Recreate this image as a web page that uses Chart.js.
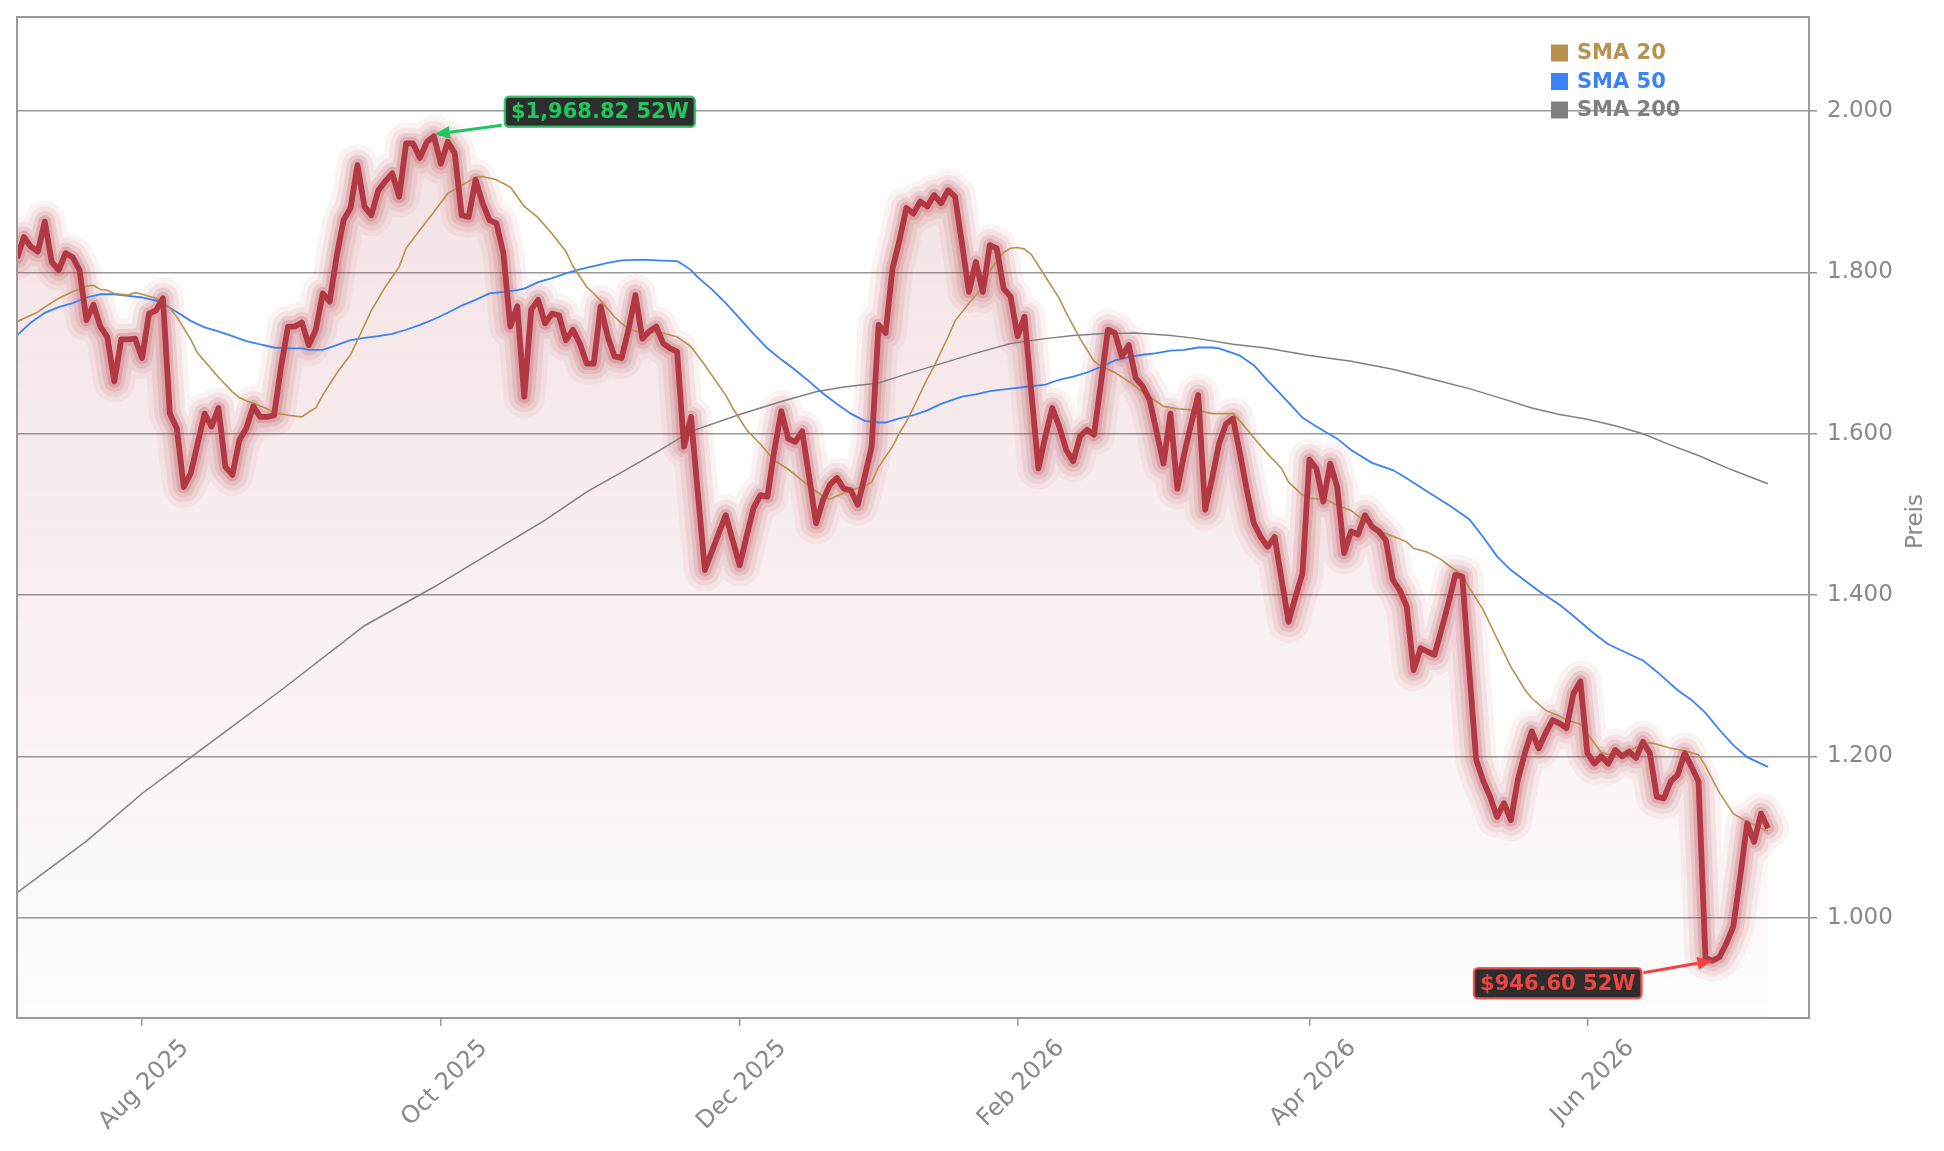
<!DOCTYPE html>
<html><head><meta charset="utf-8">
<script src="https://cdn.jsdelivr.net/npm/chart.js@4.4.1/dist/chart.umd.min.js"></script>
<style>html,body{margin:0;padding:0;background:#fff;}#wrap{width:1944px;height:1151px;}</style>
</head><body><div id="wrap"><canvas id="c" width="1944" height="1151"></canvas></div>
<script>
// Trading days (German exchange calendar), one per data point
const dates = [
"2025-07-08","2025-07-09","2025-07-10","2025-07-11","2025-07-14","2025-07-15","2025-07-16","2025-07-17","2025-07-18","2025-07-21","2025-07-22","2025-07-23","2025-07-24","2025-07-25","2025-07-28","2025-07-29","2025-07-30","2025-07-31",
"2025-08-01","2025-08-04","2025-08-05","2025-08-06","2025-08-07","2025-08-08","2025-08-11","2025-08-12","2025-08-13","2025-08-14","2025-08-15","2025-08-18","2025-08-19","2025-08-20","2025-08-21","2025-08-22","2025-08-25","2025-08-26","2025-08-27","2025-08-28","2025-08-29",
"2025-09-01","2025-09-02","2025-09-03","2025-09-04","2025-09-05","2025-09-08","2025-09-09","2025-09-10","2025-09-11","2025-09-12","2025-09-15","2025-09-16","2025-09-17","2025-09-18","2025-09-19","2025-09-22","2025-09-23","2025-09-24","2025-09-25","2025-09-26","2025-09-29","2025-09-30",
"2025-10-01","2025-10-02","2025-10-03","2025-10-06","2025-10-07","2025-10-08","2025-10-09","2025-10-10","2025-10-13","2025-10-14","2025-10-15","2025-10-16","2025-10-17","2025-10-20","2025-10-21","2025-10-22","2025-10-23","2025-10-24","2025-10-27","2025-10-28","2025-10-29","2025-10-30","2025-10-31",
"2025-11-03","2025-11-04","2025-11-05","2025-11-06","2025-11-07","2025-11-10","2025-11-11","2025-11-12","2025-11-13","2025-11-14","2025-11-17","2025-11-18","2025-11-19","2025-11-20","2025-11-21","2025-11-24","2025-11-25","2025-11-26","2025-11-27","2025-11-28",
"2025-12-01","2025-12-02","2025-12-03","2025-12-04","2025-12-05","2025-12-08","2025-12-09","2025-12-10","2025-12-11","2025-12-12","2025-12-15","2025-12-16","2025-12-17","2025-12-18","2025-12-19","2025-12-22","2025-12-23","2025-12-29","2025-12-30",
"2026-01-02","2026-01-05","2026-01-06","2026-01-07","2026-01-08","2026-01-09","2026-01-12","2026-01-13","2026-01-14","2026-01-15","2026-01-16","2026-01-19","2026-01-20","2026-01-21","2026-01-22","2026-01-23","2026-01-26","2026-01-27","2026-01-28","2026-01-29","2026-01-30",
"2026-02-02","2026-02-03","2026-02-04","2026-02-05","2026-02-06","2026-02-09","2026-02-10","2026-02-11","2026-02-12","2026-02-13","2026-02-16","2026-02-17","2026-02-18","2026-02-19","2026-02-20","2026-02-23","2026-02-24","2026-02-25","2026-02-26","2026-02-27",
"2026-03-02","2026-03-03","2026-03-04","2026-03-05","2026-03-06","2026-03-09","2026-03-10","2026-03-11","2026-03-12","2026-03-13","2026-03-16","2026-03-17","2026-03-18","2026-03-19","2026-03-20","2026-03-23","2026-03-24","2026-03-25","2026-03-26","2026-03-27","2026-03-30","2026-03-31",
"2026-04-01","2026-04-02","2026-04-07","2026-04-08","2026-04-09","2026-04-10","2026-04-13","2026-04-14","2026-04-15","2026-04-16","2026-04-17","2026-04-20","2026-04-21","2026-04-22","2026-04-23","2026-04-24","2026-04-27","2026-04-28","2026-04-29","2026-04-30",
"2026-05-04","2026-05-05","2026-05-06","2026-05-07","2026-05-08","2026-05-11","2026-05-12","2026-05-13","2026-05-14","2026-05-15","2026-05-18","2026-05-19","2026-05-20","2026-05-21","2026-05-22","2026-05-25","2026-05-26","2026-05-27","2026-05-28","2026-05-29",
"2026-06-01","2026-06-02","2026-06-03","2026-06-04","2026-06-05","2026-06-08","2026-06-09","2026-06-10","2026-06-11","2026-06-12","2026-06-15","2026-06-16","2026-06-17","2026-06-18","2026-06-19","2026-06-22","2026-06-23","2026-06-24","2026-06-25","2026-06-26","2026-06-29","2026-06-30",
"2026-07-01","2026-07-02","2026-07-03","2026-07-06","2026-07-07"
];

const price = [
1818,1844,1832,1826,1863,1813,1803,1824,1819,1803,
1741,1760,1733,1720,1665,1717,1717,1718,1694,1749,
1753,1768,1625,1607,1534,1551,1588,1625,1609,1632,
1559,1549,1592,1607,1634,1621,1621,1623,1683,1733,
1733,1738,1710,1729,1774,1764,1820,1865,1880,1933,
1882,1871,1902,1913,1923,1894,1960,1960,1942,1962,
1968.82,1935,1962,1948,1871,1869,1915,1886,1865,1861,
1824,1733,1758,1646,1754,1766,1737,1749,1747,1716,
1729,1712,1687,1687,1758,1721,1696,1694,1729,1772,
1718,1727,1733,1712,1706,1702,1584,1621,1525,1431,
1454,1477,1499,1468,1437,1473,1508,1524,1522,1580,
1628,1594,1590,1603,1547,1489,1518,1537,1545,1532,
1530,1512,1547,1584,1735,1725,1805,1840,1880,1873,
1888,1882,1896,1886,1902,1894,1836,1776,1813,1776,
1834,1830,1780,1770,1721,1745,1650,1557,1597,1632,
1609,1580,1566,1597,1605,1599,1663,1729,1725,1696,
1710,1669,1659,1642,1603,1563,1625,1532,1576,1613,
1648,1506,1545,1588,1612,1619,1576,1530,1489,1472,
1460,1472,1419,1367,1398,1427,1568,1557,1516,1563,
1534,1452,1479,1475,1499,1485,1479,1468,1419,1406,
1386,1307,1334,1330,1326,1357,1390,1425,1423,1307,
1196,1170,1150,1125,1142,1121,1171,1204,1231,1210,
1229,1245,1241,1235,1278,1293,1204,1191,1200,1191,
1208,1200,1206,1198,1218,1204,1150,1148,1169,1177,
1204,1187,1169,950,946.6,951,968,989,1051,1117,
1094,1129,1111
];

// Moving averages: [day index, value]
const sma20 = [[0,1739],[3,1751],[4,1757],[6,1768],[8,1776],[10,1783],[11,1784],[12,1779],[13,1778],[14,1774],[16,1772],[17,1775],[18,1773],[20,1768],[21,1763],[22,1756],[23,1745],[25,1717],[26,1700],[28,1680],[29,1670],[31,1652],[32,1645],[33,1641],[34,1638],[36,1631],[37,1626],[39,1623],[41,1621],[42,1627],[43,1632],[44,1648],[46,1675],[48,1698],[49,1716],[51,1753],[53,1782],[55,1807],[56,1830],[58,1853],[60,1875],[62,1898],[64,1908],[66,1918],[67,1919],[69,1915],[71,1906],[72,1894],[73,1882],[75,1868],[77,1848],[79,1826],[80,1808],[82,1782],[83,1774],[84,1765],[86,1745],[87,1737],[88,1730],[90,1725],[92,1726],[93,1725],[95,1720],[97,1708],[99,1685],[101,1660],[102,1648],[103,1632],[105,1605],[107,1587],[109,1567],[111,1556],[113,1542],[115,1529],[116,1522],[117,1519],[118,1523],[120,1530],[122,1535],[123,1540],[124,1559],[126,1584],[127,1601],[128,1615],[129,1632],[130,1650],[131,1668],[132,1684],[134,1720],[135,1740],[137,1762],[139,1782],[140,1802],[141,1814],[142,1825],[143,1830],[144,1831],[145,1829],[146,1822],[148,1795],[150,1768],[151,1750],[153,1718],[155,1690],[156,1684],[158,1676],[160,1665],[162,1652],[164,1640],[165,1634],[167,1631],[170,1629],[172,1625],[175,1625],[176,1616],[178,1595],[180,1575],[182,1557],[183,1540],[185,1524],[186,1520],[188,1519],[189,1516],[190,1511],[192,1505],[193,1498],[195,1486],[196,1480],[198,1473],[200,1466],[201,1458],[203,1453],[205,1444],[206,1437],[208,1425],[209,1409],[211,1382],[213,1346],[215,1311],[217,1283],[218,1272],[220,1257],[222,1250],[223,1245],[225,1240],[226,1228],[228,1205],[229,1202],[231,1204],[233,1211],[235,1217],[236,1215],[238,1210],[240,1207],[242,1202],[243,1188],[245,1155],[247,1129],[249,1119],[251,1111],[252,1107]];

const sma50 = [[0,1722],[2,1738],[4,1750],[6,1757],[8,1762],[10,1769],[12,1773],[14,1773],[16,1771],[18,1769],[20,1765],[21,1761],[23,1751],[25,1740],[27,1732],[29,1727],[31,1721],[33,1715],[35,1711],[37,1707],[39,1706],[41,1706],[42,1704],[44,1704],[46,1710],[48,1716],[50,1719],[52,1721],[54,1724],[56,1729],[58,1735],[60,1742],[62,1750],[64,1759],[66,1766],[68,1774],[70,1776],[72,1778],[73,1780],[75,1788],[77,1793],[79,1799],[81,1804],[83,1808],[85,1812],[87,1815],[90,1816],[92,1815],[95,1814],[96,1809],[97,1803],[98,1794],[100,1779],[102,1762],[104,1743],[106,1724],[108,1706],[110,1692],[112,1679],[114,1665],[116,1650],[118,1637],[120,1625],[122,1616],[124,1614],[125,1614],[127,1619],[129,1623],[131,1629],[133,1637],[136,1646],[138,1649],[140,1653],[143,1656],[145,1658],[148,1661],[150,1667],[152,1671],[154,1676],[156,1683],[158,1691],[160,1695],[162,1698],[164,1700],[166,1703],[168,1704],[170,1707],[172,1707],[173,1706],[175,1700],[176,1697],[177,1691],[178,1685],[180,1666],[182,1648],[185,1620],[187,1609],[190,1594],[192,1580],[195,1564],[198,1555],[200,1545],[203,1528],[206,1512],[209,1494],[211,1472],[213,1448],[215,1431],[217,1418],[219,1405],[222,1388],[224,1374],[227,1352],[229,1339],[232,1327],[234,1319],[236,1305],[239,1282],[241,1270],[243,1254],[245,1233],[247,1214],[249,1199],[252,1187]];

const sma200 = [[0,1031],[10,1095],[18,1154],[28,1218],[38,1282],[50,1362],[60,1410],[70,1462],[76,1493],[82,1528],[88,1557],[92,1577],[97,1603],[104,1624],[110,1640],[115,1652],[119,1658],[124,1663],[128,1674],[133,1687],[138,1700],[143,1712],[148,1718],[152,1722],[156,1724],[161,1725],[166,1722],[170,1718],[175,1711],[180,1706],[186,1697],[192,1690],[198,1680],[204,1667],[209,1656],[214,1643],[218,1632],[222,1624],[226,1618],[230,1610],[234,1600],[238,1586],[242,1573],[246,1558],[249,1548],[252,1538]];

const seriesNames = ["SMA 20", "SMA 50", "SMA 200"];
const yTickValues = [1000, 1200, 1400, 1600, 1800, 2000];
const xTickDates = ["2025-08-01","2025-10-01","2025-12-01","2026-02-02","2026-04-01","2026-06-01"];
const xTickLabels = ["Aug 2025","Oct 2025","Dec 2025","Feb 2026","Apr 2026","Jun 2026"];
const yTitle = "Preis";

// ---------- styling ----------
const FONT = '"DejaVu Sans", "Liberation Sans", sans-serif';
const GRAY = '#999999';
const TXT = '#888888';
const RED = 'rgb(178,56,68)';
const COLORS = ['#b8914f', '#3b82f6', '#808080'];

const pts = price.map((v, i) => ({x: i, y: v}));
const toPts = arr => arr.map(p => ({x: p[0], y: p[1]}));
let hiIdx = 0, loIdx = 0;
price.forEach((v, i) => { if (v > price[hiIdx]) hiIdx = i; if (v < price[loIdx]) loIdx = i; });
const fmtUSD = v => '$' + v.toLocaleString('en-US', {minimumFractionDigits: 2, maximumFractionDigits: 2});
const fmtDE = v => String(v).replace(/\B(?=(\d{3})+(?!\d))/g, '.');

const glow = [[42, 0.06], [31, 0.09], [21, 0.13], [13, 0.2]].map((g, k) => ({
  data: pts, borderColor: `rgba(176,58,70,${g[1]})`, borderWidth: g[0], pointRadius: 0,
  fill: false, order: 20 - k, borderJoinStyle: 'round', borderCapStyle: 'round', clip: 0, label: ''
}));

const datasets = [
  ...glow,
  {data: toPts(sma200), label: seriesNames[2], borderColor: COLORS[2], borderWidth: 1.5, pointRadius: 0, fill: false, order: 6, clip: 0},
  {data: toPts(sma50), label: seriesNames[1], borderColor: COLORS[1], borderWidth: 1.8, pointRadius: 0, fill: false, order: 5, clip: 0},
  {data: toPts(sma20), label: seriesNames[0], borderColor: COLORS[0], borderWidth: 1.6, pointRadius: 0, fill: false, order: 4, clip: 0},
  {data: pts, label: 'Preis', borderColor: RED, borderWidth: 5.8, pointRadius: 0, order: 1, clip: 0,
   borderJoinStyle: 'round', fill: 'start',
   backgroundColor: (c) => {
     const a = c.chart.chartArea; if (!a) return 'rgba(0,0,0,0)';
     const g = c.chart.ctx.createLinearGradient(0, a.top, 0, a.bottom);
     g.addColorStop(0, 'rgba(180,60,70,0.17)');
     g.addColorStop(1, 'rgba(180,60,70,0.015)');
     return g;
   }}
];

function arrow(ctx, x1, y1, x2, y2, color) {
  const ang = Math.atan2(y2 - y1, x2 - x1), L = 15, W = 6.5;
  const bx = x2 - L * Math.cos(ang), by = y2 - L * Math.sin(ang);
  ctx.strokeStyle = color; ctx.lineWidth = 3;
  ctx.beginPath(); ctx.moveTo(x1, y1); ctx.lineTo(bx, by); ctx.stroke();
  ctx.fillStyle = color; ctx.beginPath();
  ctx.moveTo(x2, y2);
  ctx.lineTo(bx + W * Math.sin(ang), by - W * Math.cos(ang));
  ctx.lineTo(bx - W * Math.sin(ang), by + W * Math.cos(ang));
  ctx.closePath(); ctx.fill();
}
function box(ctx, left, top, text, color) {
  ctx.font = 'bold 21px ' + FONT;
  const w = ctx.measureText(text).width + 12, h = 30, r = 4;
  ctx.beginPath(); ctx.roundRect(left, top, w, h, r);
  ctx.fillStyle = '#2d2d2d'; ctx.fill();
  ctx.lineWidth = 2.5; ctx.strokeStyle = color; ctx.globalAlpha = 0.85; ctx.stroke(); ctx.globalAlpha = 1;
  ctx.fillStyle = color; ctx.textAlign = 'left'; ctx.textBaseline = 'middle';
  ctx.fillText(text, left + 6, top + h / 2 + 1);
  return w;
}

const decor = {
  id: 'decor',
  afterDraw(chart) {
    const {ctx, chartArea: a, scales: {x, y}} = chart;
    ctx.save();
    // frame
    ctx.strokeStyle = GRAY; ctx.lineWidth = 2;
    ctx.strokeRect(a.left, a.top, a.right - a.left, a.bottom - a.top);
    // high annotation
    const hx = x.getPixelForValue(hiIdx), hy = y.getPixelForValue(price[hiIdx]);
    arrow(ctx, hx + 68, hy - 11, hx + 1, hy - 2, '#22c55e');
    box(ctx, hx + 71, hy - 39.5, fmtUSD(price[hiIdx]) + ' 52W', '#22c55e');
    // low annotation
    const lx = x.getPixelForValue(loIdx), ly = y.getPixelForValue(price[loIdx]);
    arrow(ctx, lx - 69, ly + 12, lx, ly, '#ef4444');
    ctx.font = 'bold 21px ' + FONT;
    const lw = ctx.measureText(fmtUSD(price[loIdx]) + ' 52W').width + 12;
    box(ctx, lx - 71 - lw, ly + 7.5, fmtUSD(price[loIdx]) + ' 52W', '#ef4444');
    // legend
    ctx.font = 'bold 21px ' + FONT; ctx.textAlign = 'left'; ctx.textBaseline = 'middle';
    seriesNames.forEach((n, k) => {
      const cy = a.top + 36 + k * 28.5;
      ctx.fillStyle = COLORS[k];
      ctx.fillRect(a.right - 258, cy - 8.5, 17, 17);
      ctx.fillText(n, a.right - 232, cy + 1);
    });
    // y title
    ctx.translate(a.right + 107, (a.top + a.bottom) / 2 + 4);
    ctx.rotate(-Math.PI / 2);
    ctx.font = '23px ' + FONT; ctx.fillStyle = TXT; ctx.textAlign = 'center'; ctx.textBaseline = 'middle';
    ctx.fillText(yTitle, 0, 0);
    ctx.restore();
  }
};

new Chart(document.getElementById('c'), {
  type: 'line',
  data: {datasets},
  options: {
    responsive: false, animation: false, devicePixelRatio: 1,
    layout: {padding: {left: 17, top: 17, right: 0, bottom: 0}},
    plugins: {legend: {display: false}, tooltip: {enabled: false},
              filler: {propagate: false, drawTime: 'beforeDatasetsDraw'}},
    elements: {line: {tension: 0}},
    scales: {
      x: {
        type: 'linear', min: 0, max: 257.9,
        afterBuildTicks: s => { s.ticks = xTickDates.map(d => ({value: dates.indexOf(d)})); },
        afterFit: s => { s.height = 133; s.paddingLeft = 0; s.paddingRight = 0; },
        ticks: {autoSkip: false, minRotation: 45, maxRotation: 45, labelOffset: 43, padding: 8,
                color: TXT, font: {family: FONT, size: 24},
                callback: v => xTickLabels[xTickDates.indexOf(dates[v])] ?? ''},
        grid: {drawOnChartArea: false, drawTicks: true, tickLength: 8, color: GRAY, lineWidth: 1.5},
        border: {display: false}
      },
      y: {
        type: 'linear', position: 'right', min: 875.6, max: 2116.8,
        afterBuildTicks: s => { s.ticks = yTickValues.map(v => ({value: v})); },
        afterFit: s => { s.width = 135; s.paddingTop = 0; s.paddingBottom = 0; },
        ticks: {color: TXT, padding: 10, font: {family: FONT, size: 23}, callback: v => fmtDE(v)},
        grid: {color: GRAY, lineWidth: 1.6, drawTicks: true, tickLength: 8},
        border: {display: false}
      }
    }
  },
  plugins: [decor]
});
</script></body></html>
